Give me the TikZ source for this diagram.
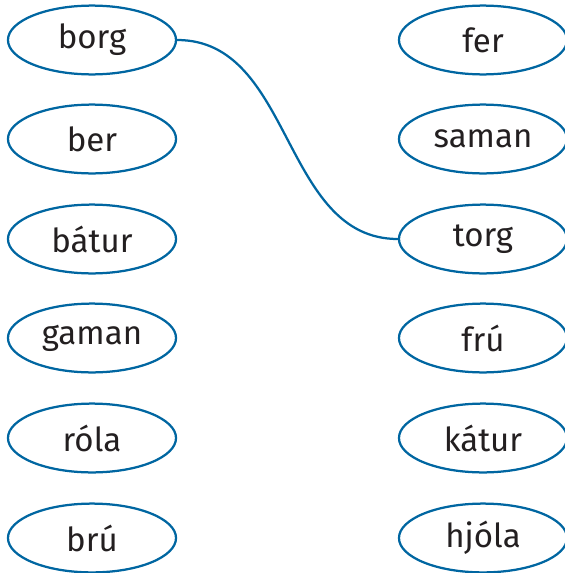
\documentclass[tikz,border=0pt]{standalone}
\usepackage{fontspec}
\setmainfont{Fira Sans}
\usepackage{xcolor}
\usetikzlibrary{shapes.geometric}
\definecolor{wordblue}{RGB}{0,102,161}
\definecolor{wordtext}{RGB}{35,31,32}
\begin{document}
\begin{tikzpicture}[x=0.025cm, y=-0.025cm]
        \tikzstyle{word}=[ellipse, draw=wordblue, line width=1.6pt, minimum width=4.2cm, minimum height=1.72cm, inner sep=0pt, text=wordtext, font=\fontsize{23.5}{28}\selectfont]
        \useasboundingbox (0,0) rectangle (565,573);

        % Left column
        \node[word] (borg) at (92, 40) {borg};
        \node[word] (ber) at (92, 139) {ber};
        \node[word] (batur) at (92, 239) {bátur};
        \node[word] (gaman) at (92, 338) {gaman};
        \node[word] (rola) at (92, 438) {róla};
        \node[word] (bru) at (92, 538) {brú};

        % Right column
        \node[word] (fer) at (483, 40) {fer};
        \node[word] (saman) at (483, 139) {saman};
        \node[word] (torg) at (483, 239) {torg};
        \node[word] (fru) at (483, 338) {frú};
        \node[word] (katur) at (483, 438) {kátur};
        \node[word] (hjola) at (483, 538) {hjóla};

        % Match
        \draw[wordblue, line width=1.6pt] (borg.east) to[out=0, in=180] (torg.west);
\end{tikzpicture}
\end{document}
